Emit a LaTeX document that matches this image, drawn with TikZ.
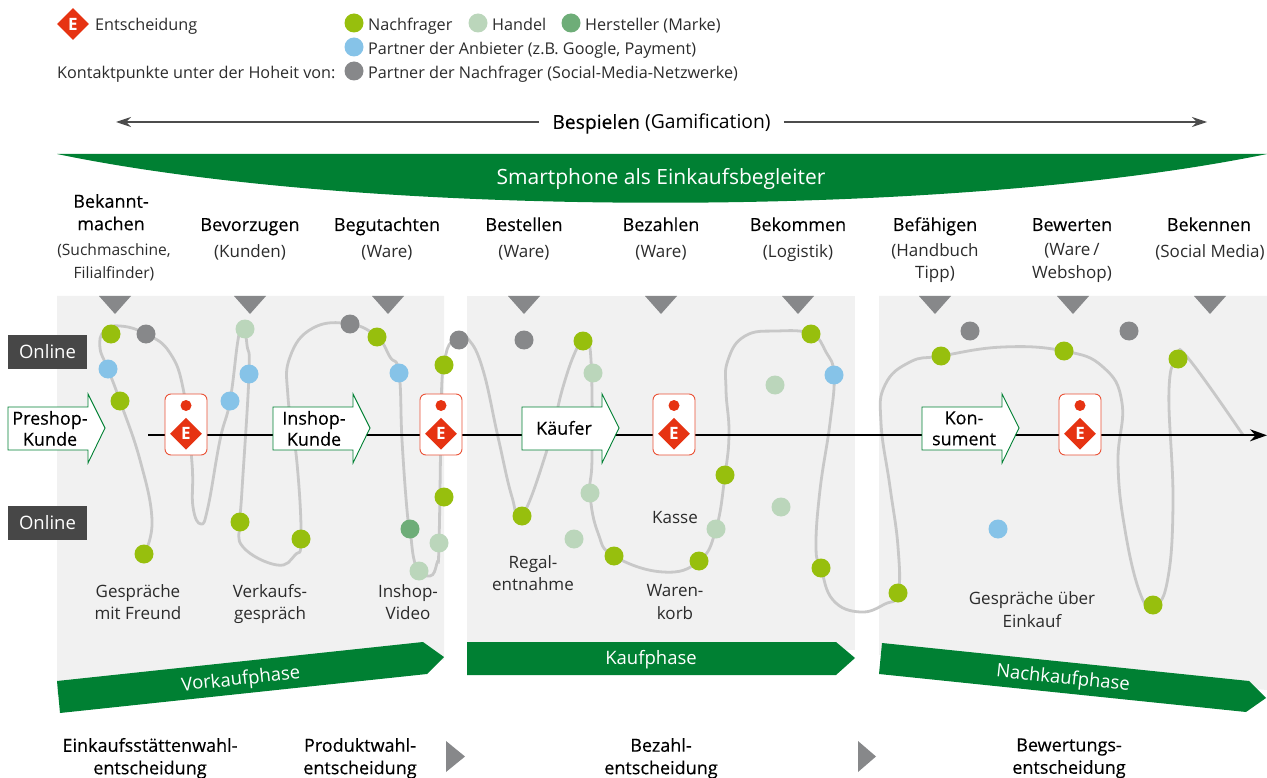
\documentclass[tikz,border=0pt]{standalone}
\usepackage{fontspec}
\setmainfont{Open Sans}
\newfontface\medfont[FakeBold=0.25]{Open Sans}
\newfontface\boldfont{Open Sans Bold}
\usetikzlibrary{shapes.geometric,arrows.meta,backgrounds}
\definecolor{lime}{HTML}{97BF0D}
\definecolor{handel}{HTML}{BBD6BB}
\definecolor{marke}{HTML}{6EAD78}
\definecolor{partner}{HTML}{86C3E8}
\definecolor{social}{HTML}{87888A}
\definecolor{bannergreen}{HTML}{008033}
\definecolor{panelgrey}{HTML}{F1F1F1}
\definecolor{pathgrey}{HTML}{C8C8C8}
\definecolor{ered}{HTML}{E63312}
\definecolor{txt}{HTML}{2B2B2B}
\tikzset{
  pt/.style={circle,inner sep=0pt,minimum size=19pt,fill=#1},
  lbl/.style={font=\fontsize{17}{22.5}\selectfont,text=txt,align=center,inner sep=0pt,execute at begin node=\strut,yshift=-3pt},
  lsmall/.style={lbl,font=\fontsize{15.6}{22.5}\selectfont},
  lleft/.style={lbl,font=\fontsize{16.2}{22.5}\selectfont,anchor=west},
  head/.style={font=\fontsize{18}{22.5}\medfont,text=black,align=center,inner sep=0pt,execute at begin node=\strut,yshift=-2.5pt},
  rolehead/.style={head,font=\fontsize{18}{21}\medfont},
  phase/.style={font=\fontsize{18.5}{22}\selectfont,text=white,inner sep=0pt,execute at begin node=\strut,yshift=-2.5pt},
  online/.style={fill=black!72,text=white,font=\fontsize{18.5}{22}\selectfont,minimum width=79pt,minimum height=34pt,inner sep=0pt},
  banner/.style={fill=bannergreen,draw=none},
  panel/.style={fill=panelgrey,draw=none},
  tri/.style={fill=social,draw=none},
  parrow/.style={fill=white,draw=bannergreen,line width=0.9pt,line join=miter},
  card/.style={draw=ered!85,fill=white,line width=0.9pt,rounded corners=6pt,minimum width=42pt,minimum height=61pt,inner sep=0pt},
  ediamond/.style={diamond,fill=ered,aspect=1,minimum width=32pt,minimum height=32pt,inner sep=0pt,text=white,font=\fontsize{17}{17}\boldfont},
  edot/.style={circle,fill=ered,inner sep=0pt,minimum size=11pt},
  journey/.style={draw=pathgrey,line width=2.8pt},
  axis/.style={draw=black,line width=1.8pt,-{Stealth[length=17pt,width=12pt]}},
  gam/.style={draw=black!70,line width=1.2pt,-{Stealth[length=15pt,width=10pt]}}
}
\begin{document}
\begin{tikzpicture}[x=1pt,y=-1pt]
\useasboundingbox (0,0) rectangle (1267,778);
% legend
\node[ediamond] (legE) at (73,24) {E};
\node[lleft] (legEt) at (95,23) {Entscheidung};
\node[pt=lime] (l1) at (354,23) {};
\node[lleft] at (368,23) {Nachfrager};
\node[pt=handel] (l2) at (478,23) {};
\node[lleft] at (492,23) {Handel};
\node[pt=marke] (l3) at (571,23) {};
\node[lleft] at (585,23) {Hersteller (Marke)};
\node[pt=partner] (l4) at (354,47) {};
\node[lleft] at (368,47) {Partner der Anbieter (z.B. Google, Payment)};
\node[pt=social] (l5) at (354,71) {};
\node[lleft] at (368,71) {Partner der Nachfrager (Social-Media-Netzwerke)};
\node[lleft] at (57,71) {Kontaktpunkte unter der Hoheit von:};
% gamification
\node[font=\fontsize{19.3}{22}\selectfont,text=black,inner sep=0pt,execute at begin node=\strut,yshift=-2.5pt] (gamif) at (661.5,122) {{\medfont Bespielen} (Gamification)};
\coordinate (gamL) at (116,122);
\coordinate (gamR) at (1207,122);
\draw[gam] (gamif.west |- gamL) ++(-13pt,0) -- (gamL);
\draw[gam] (gamif.east |- gamR) ++(13pt,0) -- (gamR);
% smartphone banner
\fill[banner] (57,154) -- (1267,154) .. controls (950,219) and (370,219) .. (57,154) -- cycle;
\node[phase,font=\fontsize{21}{24}\selectfont] (smart) at (661,177) {Smartphone als Einkaufsbegleiter};
% step heads
\node[head] at (111,213) {Bekannt-\\machen};
\node[head] at (250,224) {Bevorzugen};
\node[head] at (387,224) {Begutachten};
\node[head] at (524,224) {Bestellen};
\node[head] at (661,224) {Bezahlen};
\node[head] at (798,224) {Bekommen};
\node[head] at (935,224) {Befähigen};
\node[head] at (1072,224) {Bewerten};
\node[head] at (1209,224) {Bekennen};
\node[lsmall] at (114,261.5) {(Suchmaschine,\\Filialfinder)};
\node[lbl] at (250,250) {(Kunden)};
\node[lbl] at (387,250) {(Ware)};
\node[lbl] at (524,250) {(Ware)};
\node[lbl] at (661,250) {(Ware)};
\node[lbl] at (798,250) {(Logistik)};
\node[lbl] at (935,261.5) {(Handbuch\\Tipp)};
\node[lbl] at (1072,261.5) {(Ware\,/\\Webshop)};
\node[lbl] at (1210,250) {(Social Media)};
% triangles
\foreach \tx in {115,250,388,524,661,798,935,1073,1210}
  \fill[tri] (\tx-16,296) -- (\tx+16,296) -- (\tx,314) -- cycle;
% online labels
\node[online] (on1) at (47.5,352) {Online};
\node[online] (on2) at (47.5,523) {Online};
% phase banners
\fill[banner] (57,681) -- (423,642) -- (444,657) -- (427,674) -- (60,713) -- cycle;
\node[phase,rotate=6] at (241,678) {Vorkaufphase};
\fill[banner] (467,642) -- (836,642) -- (855,658) -- (836,675) -- (467,675) -- cycle;
\node[phase] at (651,658) {Kaufphase};
\fill[banner] (882,643) -- (1249,681) -- (1266,698) -- (1246,712) -- (879,674) -- cycle;
\node[phase,rotate=-5.9] at (1063,677) {Nachkaufphase};
% bottom
\node[head] at (150,757) {Einkaufsstättenwahl-\\entscheidung};
\node[head] at (360,757) {Produktwahl-\\entscheidung};
\node[head] at (661,757) {Bezahl-\\entscheidung};
\node[head] at (1069,757) {Bewertungs-\\entscheidung};
\fill[tri] (446,741) -- (465,756.5) -- (446,772) -- cycle;
\fill[tri] (858,741) -- (876,756.5) -- (858,772) -- cycle;
% place labels
\node[lbl] at (138,602.5) {Gespräche\\mit Freund};
\node[lbl] at (270,602.5) {Verkaufs-\\gespräch};
\node[lbl] at (408,602.5) {Inshop-\\Video};
\node[lbl] at (533,573.5) {Regal-\\entnahme};
\node[lbl] at (675,516) {Kasse};
\node[lbl] at (675,602.5) {Waren-\\korb};
\node[lbl] at (1032,610) {Gespräche über\\Einkauf};
% role arrows
\foreach \ax in {8,273,522,922}{
  \draw[parrow] (\ax,407) -- (\ax+80,407) -- (\ax+80,394) -- (\ax+97,428) -- (\ax+80,463) -- (\ax+80,450) -- (\ax,450) -- cycle;
}
\node[rolehead] (r1) at (50,429) {Preshop-\\Kunde};
\node[rolehead] (r2) at (314,429) {Inshop-\\Kunde};
\node[rolehead] (r3) at (564,428) {Käufer};
\node[rolehead] (r4) at (964,429) {Kon-\\sument};
% decision cards
\foreach \n/\cx in {a/186,b/441,c/674,d/1080}{
  \node[card] (card\n) at (\cx,424.5) {};
  \node[edot] (dot\n) at (\cx,405.5) {};
  \node[ediamond] (dia\n) at (\cx,433.7) {E};
}
% touch points
\foreach \n/\px/\py/\c in {
 a1/144/554/lime,a2/120/401/lime,a3/108/369/partner,a4/111/334/lime,a5/146/334/social,
 a6/230/401/partner,a7/245/329/handel,a8/249/374/partner,a9/240/522/lime,a10/301/539/lime,
 a11/350/324/social,a12/377/337/lime,a13/399/373/partner,a14/410/529/marke,a15/419/571/handel,
 a16/439/543/handel,a17/444/497/lime,a18/444/365/lime,a19/459/340/social,
 b1/522/516/lime,b2/583/341/lime,b3/593/373/handel,b4/590/493/handel,b5/614/556/lime,
 b6/699/561/lime,b7/716/529/handel,b8/725/475/lime,b9/811/334/lime,b10/834/375/partner,
 b11/821/568/lime,b12/524/340/social,b13/574/539/handel,b14/775/385/handel,b15/781/507/handel,
 c1/898/593/lime,c2/941/356/lime,c3/1064/351/lime,c4/1153/605/lime,c5/1178/359/lime,
 c6/970/331/social,c7/1129/331/social,c8/998/529/partner}{
  \node[pt=\c] (\n) at (\px,\py) {};
}
\coordinate (axisStart) at (148,435.3);
\coordinate (axisEnd) at (1267,435.3);
\begin{scope}[on background layer]
  \fill[panel] (57,296) -- (444,296) -- (444,660) -- (57,695) -- cycle;
  \fill[panel] (467,296) rectangle (855,650);
  \fill[panel] (879,296) -- (1267,296) -- (1267,690) -- (879,655) -- cycle;
  \draw[journey] plot[smooth,tension=0.75] coordinates {
    (a1) (152,520) (140,460) (a2) (a3) (100,348) (104,331) (120,326) (a5) (170,353) (184,393) (192,463) (193,507) (201,524) (208,507) (220,440) (a6) (238,340) (243,322)
    (247,345) (a8) (242,490) (a9) (243,547) (277,565) (295,555) (a10) (297,463) (288,397) (290,357) (313,328) (a11) (a12) (390,357) (a13) (402,440) (407,510) (a14) (416,566) (430,576) (437,563) (a16) (441,423) (442,380) (a18) (449,345) (a19)
    (469,340) (483,370) (498,437) (512,497) (b1) (547,450) (563,387) (577,348) (585,340) (591,360) (592,457) (b4) (598,533) (b5) (663,572) (b6) (b7) (b8) (729,433) (726,390) (728,360) (745,336) (777,331) (b9) (826,352) (b10) (830,423) (820,490) (816,547) (b11) (833,600) (860,612) (885,604) (c1)
    (898,547) (890,487) (881,423) (885,385) (910,362) (c2) (1003,347) (c3) (1103,367) (1122,403) (1118,463) (1125,530) (1140,593) (c4) (1167,583) (1173,503) (1169,390) (c5) (1188,358) (1243,435)};
  \draw[axis] (axisStart) -- (axisEnd);
\end{scope}
\end{tikzpicture}
\end{document}
